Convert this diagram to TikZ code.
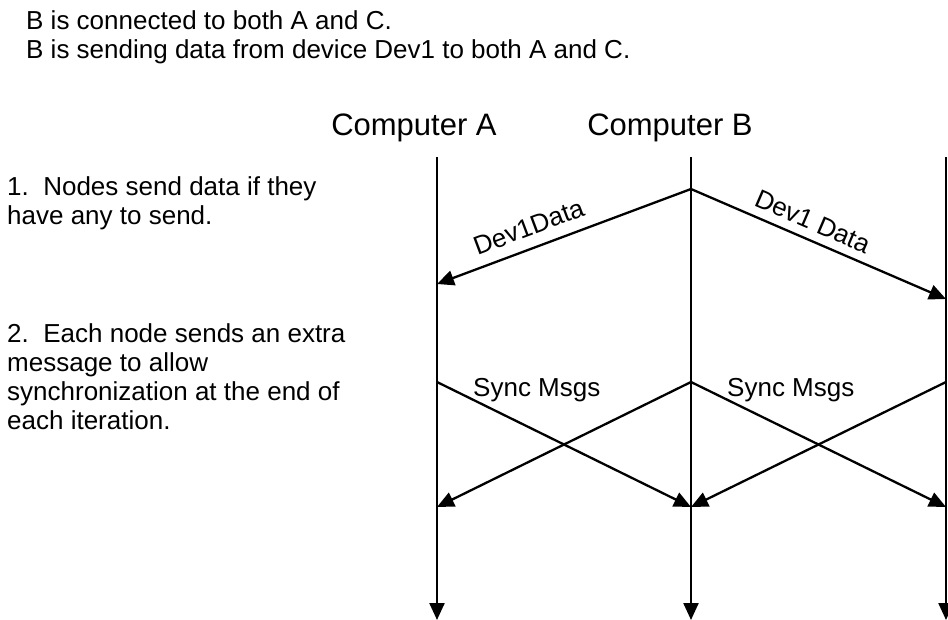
\documentclass[tikz,border=0pt]{standalone}
\usepackage{fontspec}
\setmainfont{Liberation Sans}
\usetikzlibrary{arrows.meta}
\begin{document}
\begin{tikzpicture}[x=1pt,y=-1pt,
  body/.style={font=\fontsize{26}{29}\selectfont, inner sep=0pt, anchor=base west},
  ttl/.style={font=\fontsize{31}{35}\selectfont, inner sep=0pt, anchor=base},
  msg/.style={line width=2.3pt, -{Triangle[length=17pt,width=15pt]}},
  lbl/.style={font=\fontsize{26}{29}\selectfont, inner sep=0pt}]
\useasboundingbox (0,0) rectangle (948,619);
% header text
\node[body] (h1) at (26,29) {B is connected to both A and C.};
\node[body] (h2) at (26,58) {B is sending data from device Dev1 to both A and C.};
% titles
\node[ttl] (tA) at (414,135) {Computer A};
\node[ttl] (tB) at (670,135) {Computer B};
% step texts
\node[body] (s1a) at (7,195) {1.~~Nodes send data if they};
\node[body] (s1b) at (7,224) {have any to send.};
\node[body] (s2a) at (7,342) {2.~~Each node sends an extra};
\node[body] (s2b) at (7,371) {message to allow};
\node[body] (s2c) at (7,400) {synchronization at the end of};
\node[body] (s2d) at (7,429) {each iteration.};
% lifeline points
\coordinate (A0) at (437,157);
\coordinate (B0) at (691,157);
\coordinate (C0) at (946,157);
\coordinate (Bd) at (691,189);
\coordinate (Ad) at (437,284);
\coordinate (Cd) at (946,299);
\coordinate (As) at (437,382);
\coordinate (Bs) at (691,382);
\coordinate (Cs) at (946,382);
\coordinate (Ae) at (437,507);
\coordinate (Be) at (691,507);
\coordinate (Ce) at (946,507);
\coordinate (Aend) at (437,620);
\coordinate (Bend) at (691,620);
\coordinate (Cend) at (946,620);
% lifelines
\draw[msg] (A0) -- (Aend);
\draw[msg] (B0) -- (Bend);
\draw[msg] (C0) -- (Cend);
% data messages
\draw[msg] (Bd) -- node[lbl, pos=0.61, sloped, above=11pt] (l1) {Dev1Data} (Ad);
\draw[msg] (Bd) -- node[lbl, pos=0.45, sloped, above=8pt] (l2) {Dev1 Data} (Cd);
% sync messages
\draw[msg] (As) -- (Be);
\draw[msg] (Bs) -- (Ae);
\draw[msg] (Bs) -- (Ce);
\draw[msg] (Cs) -- (Be);
\node[lbl, anchor=base west] (sy1) at (473,396) {Sync Msgs};
\node[lbl, anchor=base west] (sy2) at (727,396) {Sync Msgs};
\end{tikzpicture}
\end{document}
